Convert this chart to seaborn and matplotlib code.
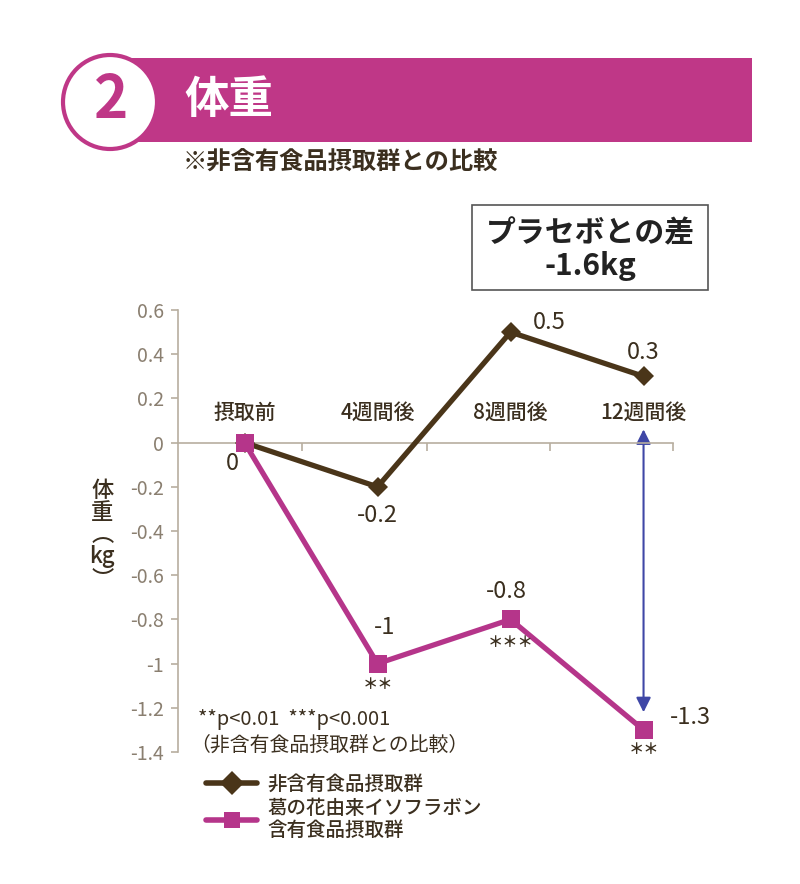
import matplotlib
matplotlib.use("Agg")
import matplotlib.pyplot as plt
import seaborn as sns
import pandas as pd
from matplotlib.lines import Line2D
from matplotlib.patches import Rectangle, Ellipse

sns.set_theme(style="white")
plt.rcParams['font.family'] = ['Noto Sans CJK JP', 'DejaVu Sans']

# ---- data ----
categories = ["摂取前", "4週間後", "8週間後", "12週間後"]
control_name = "非含有食品摂取群"
treat_name = "葛の花由来イソフラボン\n含有食品摂取群"
control_values = [0, -0.2, 0.5, 0.3]
treat_values = [0, -1.0, -0.8, -1.3]
control_labels = ["", "-0.2", "0.5", "0.3"]
treat_labels = ["0", "-1", "-0.8", "-1.3"]
treat_sig = ["", "＊＊", "＊＊＊", "＊＊"]
yticks = [0.6, 0.4, 0.2, 0, -0.2, -0.4, -0.6, -0.8, -1, -1.2, -1.4]
ytick_labels = ["0.6", "0.4", "0.2", "0", "-0.2", "-0.4", "-0.6", "-0.8", "-1", "-1.2", "-1.4"]
diff_text = "プラセボとの差\n-1.6kg"

BROWN = "#4a3519"
MAGENTA = "#b5358a"
HEADER = "#bf3787"
AXGREY = "#b7ae9f"
TICKGREY = "#8a7f70"
TEXTDARK = "#3b2f1f"
BLUE = "#3f47a6"

df = pd.DataFrame({
    "x": list(range(len(categories))) * 2,
    "value": control_values + treat_values,
    "group": [control_name] * len(categories) + [treat_name] * len(categories),
})

fig = plt.figure(figsize=(8, 8.84), dpi=100)
ax = fig.add_axes([0.2225, 0.1493, 0.841 - 0.2225, 0.6493 - 0.1493])

sns.lineplot(data=df, x="x", y="value", hue="group", style="group",
             hue_order=[control_name, treat_name],
             palette={control_name: BROWN, treat_name: MAGENTA},
             markers={control_name: "D", treat_name: "s"},
             dashes=False, linewidth=3.8, markersize=12, markeredgewidth=0,
             legend=False, ax=ax, zorder=3)
for ln in ax.get_lines():
    if ln.get_marker() == "s":
        ln.set_markersize(13.5)
    elif ln.get_marker() == "D":
        ln.set_markersize(10)

ax.set_xlim(-0.5, 3.22)
ax.set_ylim(-1.4, 0.6)
ax.set_xlabel("")
ax.set_ylabel("")

for s in ["top", "right"]:
    ax.spines[s].set_visible(False)
ax.spines["left"].set_color(AXGREY)
ax.spines["left"].set_linewidth(1.2)
ax.spines["bottom"].set_position(("data", 0))
ax.spines["bottom"].set_color(AXGREY)
ax.spines["bottom"].set_linewidth(1.2)

ax.set_yticks(yticks)
ax.set_yticklabels(ytick_labels)
ax.tick_params(axis="y", direction="out", length=5, width=1.2, color=AXGREY,
               labelcolor=TICKGREY, labelsize=14, left=True, pad=5)
ax.set_xticks([0.436, 1.37, 2.30, 3.22])
ax.set_xticklabels([])
ax.tick_params(axis="x", direction="out", length=6, width=1.2, color=AXGREY, bottom=True)

for i, c in enumerate(categories):
    ax.text(i, 0.085, c, ha="center", va="bottom", fontsize=15, color=TEXTDARK,
            fontweight="medium")

ctrl_off = [(0, 0), (0, -21), (28, 7), (0, 17)]
for i, (v, lab) in enumerate(zip(control_values, control_labels)):
    if lab:
        ax.annotate(lab, (i, v), xytext=ctrl_off[i], textcoords="offset points",
                    ha="center", va="center", fontsize=17, color=TEXTDARK)
treat_off = [(-9, -15), (5, 26), (-3, 20), (34, 9)]
for i, (v, lab) in enumerate(zip(treat_values, treat_labels)):
    ax.annotate(lab, (i, v), xytext=treat_off[i], textcoords="offset points",
                ha="center", va="center", fontsize=17, color=TEXTDARK)
sig_off = [0, -15, -16, -14]
for i, (v, s) in enumerate(zip(treat_values, treat_sig)):
    if s:
        ax.annotate(s, (i, v), xytext=(0, sig_off[i]), textcoords="offset points",
                    ha="center", va="center", fontsize=11, color=TEXTDARK,
                    fontweight="bold")

ax.annotate("", xy=(3, 0.06), xytext=(3, -1.22),
            arrowprops=dict(arrowstyle="<|-|>", color=BLUE, lw=1.5,
                            mutation_scale=22, shrinkA=0, shrinkB=0), zorder=2)

fig.text(0.128, 0.395, "体\n重\n︵\nkg\n︶", ha="center", va="center", fontsize=16,
         color=TEXTDARK, linespacing=0.95, fontweight="medium")

fig.text(0.2475, 0.186, "**p<0.01  ***p<0.001", fontsize=14.5, color=TEXTDARK, va="center")
fig.text(0.2375, 0.157, "（非含有食品摂取群との比較）", fontsize=14.3, color=TEXTDARK, va="center")

handles = [Line2D([], [], color=BROWN, lw=4, marker="D", markersize=12, markeredgewidth=0),
           Line2D([], [], color=MAGENTA, lw=4, marker="s", markersize=12, markeredgewidth=0)]
fig.legend(handles, [control_name, treat_name], loc="upper left",
           bbox_to_anchor=(0.236, 0.143), frameon=False,
           prop={"size": 14, "weight": "medium"},
           handlelength=2.6, labelspacing=0.25, handletextpad=0.55,
           labelcolor=TEXTDARK)

fig.patches.append(Rectangle((130 / 800, 1 - 142 / 884), (752 - 130) / 800, 84 / 884,
                             transform=fig.transFigure, facecolor=HEADER, edgecolor="none", zorder=1))
fig.patches.append(Ellipse((110 / 800, 1 - 102 / 884), 94 / 800, 94 / 884,
                           transform=fig.transFigure, facecolor="white", edgecolor=HEADER,
                           linewidth=3, zorder=2))
fig.text(111 / 800, 1 - 101 / 884, "2", ha="center", va="center", fontsize=42,
         color=HEADER, fontweight="bold", zorder=3)
fig.text(184 / 800, 1 - 100 / 884, "体重", ha="left", va="center", fontsize=32,
         color="white", fontweight="bold", zorder=3)
fig.text(183 / 800, 1 - 163 / 884, "※非含有食品摂取群との比較", ha="left", va="center",
         fontsize=17.5, color=TEXTDARK, fontweight="bold")

fig.patches.append(Rectangle((472 / 800, 1 - 290 / 884), 236 / 800, 85 / 884,
                             transform=fig.transFigure, facecolor="white", edgecolor="#555555",
                             linewidth=1.2))
fig.text(590 / 800, 1 - 250 / 884, diff_text, ha="center", va="center", fontsize=21.5,
         color="#222222", fontweight="bold", linespacing=1.1)

fig.savefig("out.png", dpi=100)
